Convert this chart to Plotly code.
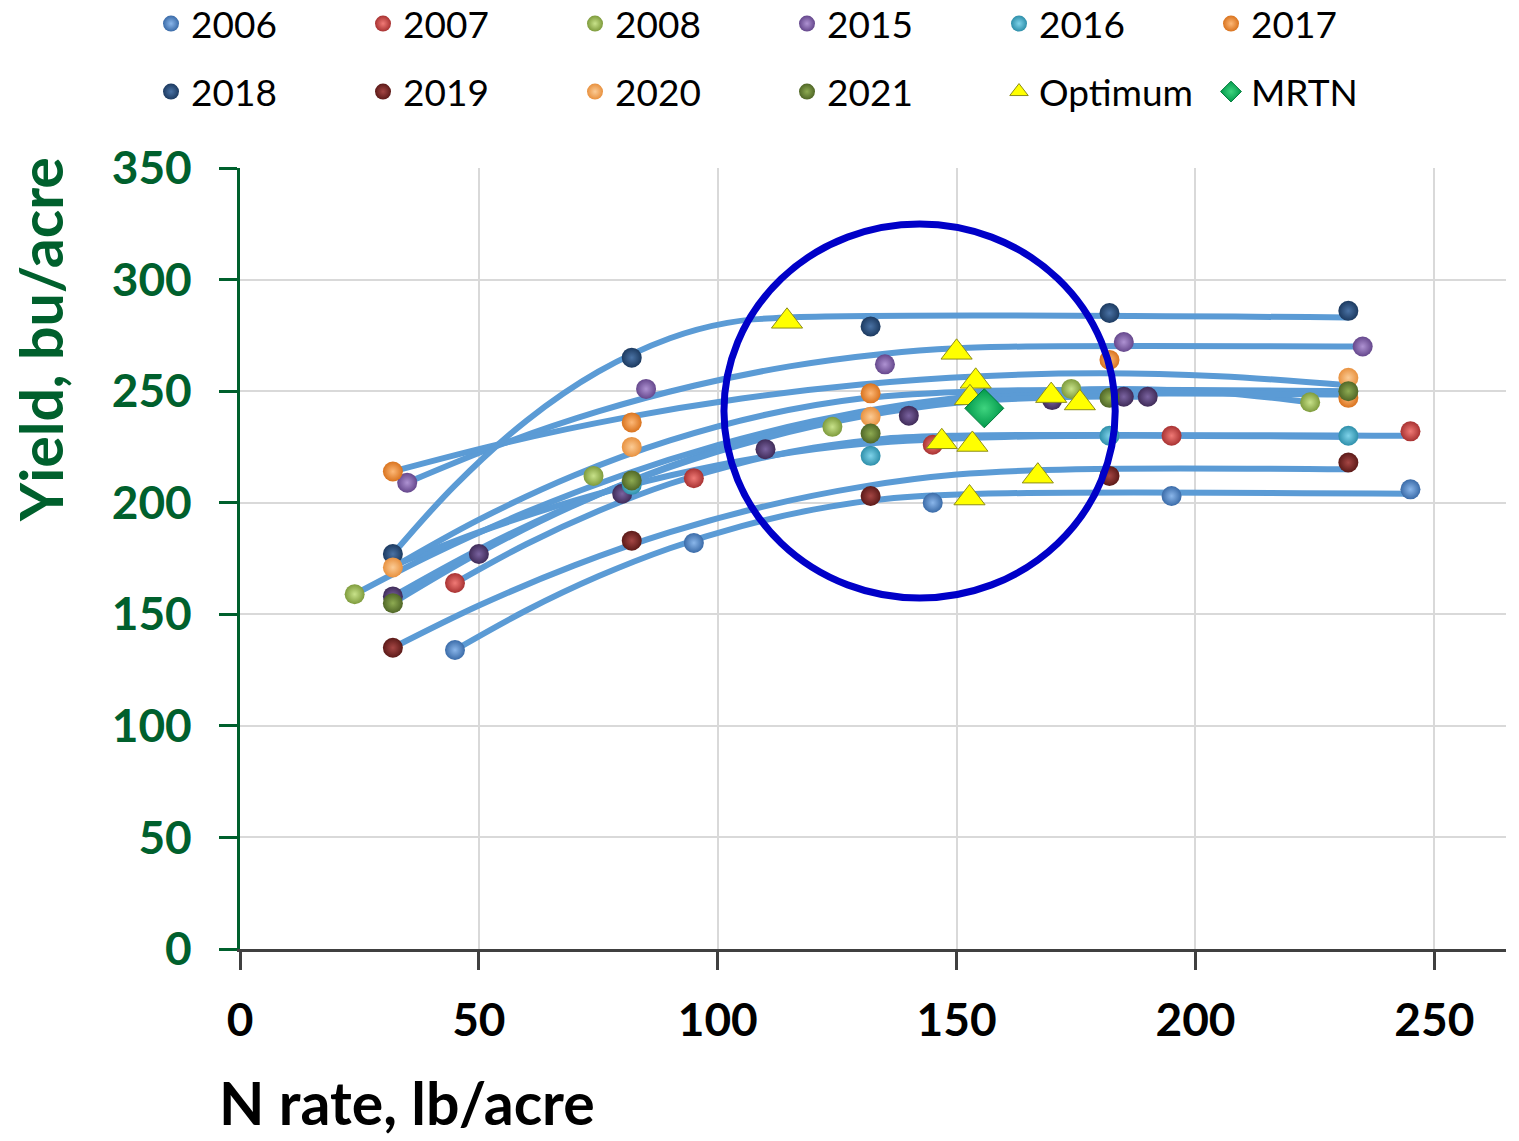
import plotly.graph_objects as go

# ---------------- data ----------------
YEARS = ["2006", "2007", "2008", "2015", "2016", "2017", "2018", "2019", "2020", "2021"]

N_2006 = [45, 95, 145, 195, 245]
Y_2006 = [134, 182, 200, 203, 206]
N_2007 = [45, 95, 145, 195, 245]
Y_2007 = [164, 211, 226, 230, 232]
N_2008 = [24, 74, 124, 174, 224]
Y_2008 = [159, 212, 234, 251, 245]
N_2015 = [35, 85, 135, 185, 235]
Y_2015 = [209, 251, 262, 272, 270]
N_2016 = [82, 132, 182, 232]
Y_2016 = [208, 221, 230, 230]
N_2017 = [32, 82, 132, 182, 232]
Y_2017 = [214, 236, 249, 264, 247]
N_2018 = [32, 82, 132, 182, 232]
Y_2018 = [177, 265, 279, 285, 286]
N_2019 = [32, 82, 132, 182, 232]
Y_2019 = [135, 183, 203, 212, 218]
N_2020 = [32, 82, 132, 232]
Y_2020 = [171, 225, 238.5, 256]
N_2021 = [32, 82, 132, 182, 232]
Y_2021 = [155, 210, 231, 247, 250]
N_EXTRA = [32, 50, 80, 110, 140, 170, 185, 190]
Y_EXTRA = [158, 177, 204, 224, 239, 246, 247.5, 247.5]

OPT_N = [114.5, 150, 154, 152.8, 146.9, 153.3, 169.8, 175.8, 167, 152.7]
OPT_Y = [281.3, 267.4, 254.4, 247, 227.3, 226.1, 248, 244.7, 211.9, 202.1]
MRTN_N = [155.8]
MRTN_Y = [242.3]

# response curves
C2006_X = [45, 60, 75, 90, 105, 120, 135, 155, 245]
C2006_Y = [134, 151.8, 167, 179.6, 189.5, 196.9, 201.7, 204, 204]
C2007_X = [45, 60, 75, 90, 105, 120, 135, 150, 245]
C2007_Y = [164, 181.5, 196.3, 208.5, 217.9, 224.6, 228.7, 230, 230]
C2008_X = [24, 40, 60, 80, 100, 120, 140, 160, 183, 205, 224]
C2008_Y = [159, 176.6, 195.9, 212.3, 225.8, 236.5, 244.2, 249, 251, 249.3, 245]
C2015_X = [35, 55, 75, 95, 115, 135, 150, 164.5, 235]
C2015_Y = [209, 226.4, 240.9, 252.4, 261.1, 266.8, 269.2, 270, 270]
C2016_X = [32, 50, 70, 90, 110, 130, 160, 232]
C2016_Y = [171.7, 186.8, 200.9, 212.2, 220.7, 226.3, 229.5, 229.5]
C2017_X = [32, 55, 80, 105, 130, 155, 180, 205, 232]
C2017_Y = [214, 226.6, 237.9, 246.7, 253, 256.7, 258, 256.7, 252.6]
C2018_X = [32, 45, 60, 75, 90, 102, 114.5, 232]
C2018_Y = [177, 207.8, 236.8, 258.7, 273.7, 280.6, 283, 283]
C2019_X = [32, 50, 70, 90, 110, 130, 150, 175, 232]
C2019_Y = [135, 153.9, 171.9, 186.8, 198.5, 207.1, 212.6, 215, 215]
C2020_X = [32, 50, 70, 90, 110, 130, 155, 232]
C2020_Y = [171, 192.4, 212.3, 227.9, 239.4, 246.7, 250, 250]
C2021_X = [32, 50, 70, 90, 110, 130, 150, 172, 232]
C2021_Y = [155, 177.5, 198.9, 216.4, 230.2, 240.1, 246.2, 248.5, 248.5]
CEX_X = [32, 50, 70, 90, 110, 130, 150, 175, 190]
CEX_Y = [158, 179.1, 199.2, 215.9, 229, 238.6, 244.8, 247.5, 247.5]

X_TICKS = [0, 50, 100, 150, 200, 250]
Y_TICKS = [0, 50, 100, 150, 200, 250, 300, 350]

# ---------------- styling ----------------
GREEN = "#00602D"
CURVE = "#5B9BD5"
FONT = "Lato"

# (edge colour, highlight colour)
BALL = {
    "2006": ("#3A6BA8", "#8AB6EA"),
    "2007": ("#A83232", "#F07A76"),
    "2008": ("#7E9B3C", "#C8E28A"),
    "2015": ("#65478C", "#AE92D2"),
    "2016": ("#2E8FAA", "#7FD3EA"),
    "2017": ("#D9731E", "#FDB877"),
    "2018": ("#1C3A60", "#4A72A4"),
    "2019": ("#5C1A18", "#A54644"),
    "2020": ("#E8913F", "#FBCB95"),
    "2021": ("#506727", "#8EAB52"),
    "extra": ("#3F2B58", "#7A63A0"),
}

points = {
    "2006": (N_2006, Y_2006), "2007": (N_2007, Y_2007), "2008": (N_2008, Y_2008),
    "2015": (N_2015, Y_2015), "2016": (N_2016, Y_2016), "2017": (N_2017, Y_2017),
    "2018": (N_2018, Y_2018), "2019": (N_2019, Y_2019), "2020": (N_2020, Y_2020),
    "2021": (N_2021, Y_2021),
}
curves = [
    (C2006_X, C2006_Y), (C2007_X, C2007_Y), (C2008_X, C2008_Y), (C2015_X, C2015_Y),
    (C2016_X, C2016_Y), (C2017_X, C2017_Y), (C2018_X, C2018_Y), (C2019_X, C2019_Y),
    (C2020_X, C2020_Y), (C2021_X, C2021_Y), (CEX_X, CEX_Y),
]
# legend groups: each holds three entries (two per row)
LEGEND_OF = {"2006": "legend", "2007": "legend", "2008": "legend",
             "2015": "legend2", "2016": "legend2", "2017": "legend2",
             "2018": "legend3", "2019": "legend3", "2020": "legend3",
             "2021": "legend4"}

fig = go.Figure()

for cx, cy in curves:
    fig.add_trace(go.Scatter(x=cx, y=cy, mode="lines", line=dict(color=CURVE, width=6, shape="spline", smoothing=1),
                             showlegend=False, hoverinfo="skip"))

def ball(name, xs, ys, legend, show=True):
    edge, hi = BALL[name]
    fig.add_trace(go.Scatter(
        x=xs, y=ys, mode="markers", name=name, legend=legend, showlegend=show,
        marker=dict(size=20, color=edge, line=dict(width=0),
                    gradient=dict(type="radial", color=hi)),
    ))

ball("extra", N_EXTRA, Y_EXTRA, "legend", show=False)
for yr in YEARS:
    xs, ys = points[yr]
    ball(yr, xs, ys, LEGEND_OF[yr])

fig.add_trace(go.Scatter(
    x=OPT_N, y=OPT_Y, mode="markers", name="Optimum", legend="legend4",
    marker=dict(symbol="triangle-up", size=27, color="#FFFF00", line=dict(color="#8C8C1A", width=1)),
))
fig.add_trace(go.Scatter(
    x=MRTN_N, y=MRTN_Y, mode="markers", name="MRTN", legend="legend4",
    marker=dict(symbol="diamond", size=30, color="#00984A", line=dict(color="#007A3A", width=1),
                gradient=dict(type="radial", color="#3FD47F")),
))

W, H = 1519, 1141
L, R, T, B = 240, 13, 168, 192
PW = W - L - R
PH = H - T - B

def px_to_paper_x(px):
    return (px - L) / PW

def px_to_paper_y(py):
    return (H - B - py) / PH

legend_common = dict(
    orientation="h", entrywidth=167, entrywidthmode="pixels",
    font=dict(family=FONT, size=37, color="#000000"),
    bgcolor="rgba(0,0,0,0)", itemsizing="trace",
    xanchor="left", yanchor="middle", traceorder="normal",
)
ROW1_Y, ROW2_Y = 24, 92
LEFT_X, MID_X = 151, 151 + 3 * 212

fig.update_layout(
    width=W, height=H,
    margin=dict(l=L, r=R, t=T, b=B, autoexpand=False),
    paper_bgcolor="white", plot_bgcolor="white",
    legend=dict(**legend_common, x=px_to_paper_x(LEFT_X), y=px_to_paper_y(ROW1_Y)),
    legend2=dict(**legend_common, x=px_to_paper_x(MID_X), y=px_to_paper_y(ROW1_Y)),
    legend3=dict(**legend_common, x=px_to_paper_x(LEFT_X), y=px_to_paper_y(ROW2_Y)),
    legend4=dict(**legend_common, x=px_to_paper_x(MID_X), y=px_to_paper_y(ROW2_Y)),
    xaxis=dict(
        range=[0, 265], tickmode="array", tickvals=X_TICKS, ticktext=[str(v) for v in X_TICKS],
        showgrid=True, gridcolor="#D9D9D9", gridwidth=1.5, zeroline=False,
        showline=True, linecolor="#404040", linewidth=3,
        ticks="outside", ticklen=18, tickwidth=2.5, tickcolor="#404040",
        tickfont=dict(family=FONT, size=46, color="#000000", weight="bold"),
        ticklabelstandoff=11,
    ),
    yaxis=dict(
        range=[0, 350], tickmode="array", tickvals=Y_TICKS, ticktext=[str(v) for v in Y_TICKS],
        showgrid=True, gridcolor="#D9D9D9", gridwidth=1.5, zeroline=False,
        showline=True, linecolor=GREEN, linewidth=3,
        ticks="outside", ticklen=18, tickwidth=3, tickcolor=GREEN,
        tickfont=dict(family=FONT, size=46, color=GREEN, weight="bold"),
        ticklabelstandoff=18,
    ),
    shapes=[dict(type="circle", xref="x", yref="y", x0=101.3, x1=183.2, y0=157.3, y1=324.9,
                 line=dict(color="#0000C8", width=7), layer="above")],
    annotations=[
        dict(text="N rate, lb/acre", xref="paper", yref="paper", x=px_to_paper_x(407), y=px_to_paper_y(1140),
             xanchor="center", yanchor="bottom", showarrow=False,
             font=dict(family=FONT, size=59, color="#000000", weight="bold")),
        dict(text="Yield, bu/acre", xref="paper", yref="paper", x=px_to_paper_x(40), y=px_to_paper_y(340),
             xanchor="center", yanchor="middle", showarrow=False, textangle=-90,
             font=dict(family=FONT, size=59, color=GREEN, weight="bold")),
    ],
)

fig.write_html("out.html", config={"displayModeBar": False},
               post_script="document.body.style.margin='0';")
